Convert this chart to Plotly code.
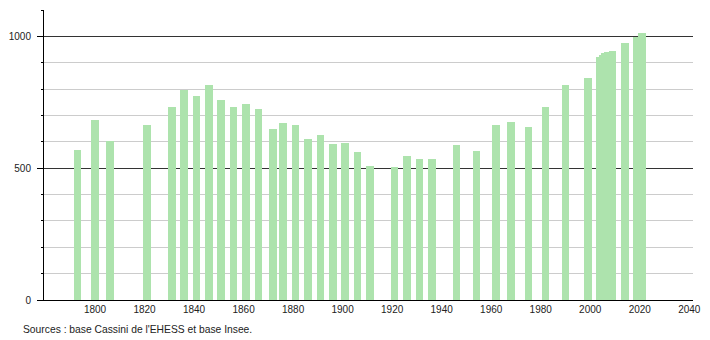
import plotly.graph_objects as go

years = [1793, 1800, 1806, 1821, 1831, 1836, 1841, 1846, 1851, 1856, 1861, 1866,
         1872, 1876, 1881, 1886, 1891, 1896, 1901, 1906, 1911, 1921, 1926, 1931,
         1936, 1946, 1954, 1962, 1968, 1975, 1982, 1990, 1999, 2004, 2005, 2006,
         2007, 2008, 2009, 2014, 2019, 2021]
population = [570, 684, 605, 665, 733, 796, 775, 814, 757, 733, 745, 726,
              650, 673, 665, 611, 625, 592, 596, 560, 509, 506, 545, 536,
              536, 589, 564, 662, 677, 657, 733, 816, 841, 922, 930, 936,
              939, 942, 945, 976, 997, 1012]

x_ticks = [1800, 1820, 1840, 1860, 1880, 1900, 1920, 1940, 1960, 1980, 2000, 2020, 2040]
major_y = [0, 500, 1000]
minor_step = 100
source_text = "Sources : base Cassini de l'EHESS et base Insee."

BAR_COLOR = "#ade3ad"
FONT = "Liberation Sans, Arial, sans-serif"

fig = go.Figure()
fig.add_trace(go.Bar(x=years, y=population, width=[3.07] * len(years),
                     marker=dict(color=BAR_COLOR, line=dict(width=0)),
                     hoverinfo="x+y"))

fig.update_layout(
    width=710, height=340,
    margin=dict(l=43.5, r=9, t=10.3, b=40, pad=0),
    paper_bgcolor="white", plot_bgcolor="white",
    showlegend=False, bargap=0,
    font=dict(family=FONT, size=10, color="#222"),
    xaxis=dict(range=[1779.4, 2041.5], tickvals=x_ticks, showgrid=False,
               showline=True, linecolor="#000", linewidth=1, ticks="",
               zeroline=False, tickfont=dict(size=10, color="#222")),
    yaxis=dict(range=[0, 1100], tickvals=major_y,
               showgrid=True, gridcolor="#333333", gridwidth=1,
               ticks="outside", ticklen=6, tickcolor="#000",
               showline=True, linecolor="#000", linewidth=1, zeroline=False,
               ticklabelstandoff=4, tickfont=dict(size=10, color="#222"),
               minor=dict(tickmode="linear", tick0=0, dtick=minor_step,
                          showgrid=True, gridcolor="#cccccc", gridwidth=1,
                          ticks="outside", ticklen=2, tickcolor="#000")),
    annotations=[dict(text=source_text, xref="paper", yref="paper",
                      x=-0.0347, y=-0.1, xanchor="left", yanchor="middle",
                      showarrow=False, font=dict(size=10.3, color="#222", family=FONT))],
)

fig.write_html("out.html")
